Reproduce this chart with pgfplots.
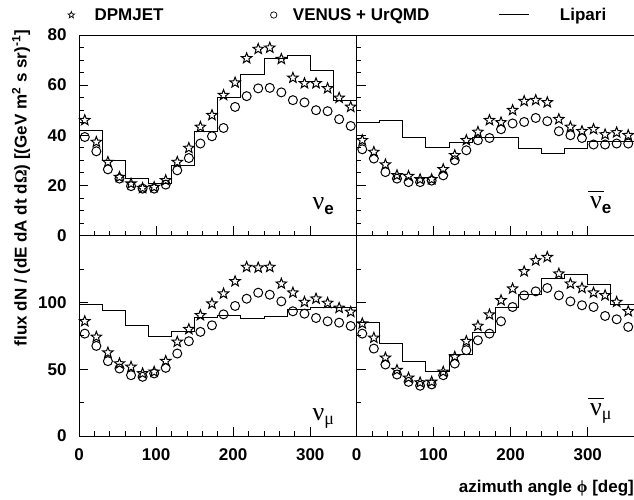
\documentclass[border=0pt]{standalone}
\usepackage{fontspec}
\setmainfont{Liberation Sans}
\newfontfamily\symb{Liberation Serif}
\usepackage{pgfplots}
\usepackage{pgfplotstable}
\pgfplotsset{compat=1.18}

% open five-pointed star, like ROOT marker 30
\pgfdeclareplotmark{ostar}{%
  \pgfpathmoveto{\pgfpointpolar{90}{\pgfplotmarksize}}%
  \pgfpathlineto{\pgfpointpolar{126}{0.42*\pgfplotmarksize}}%
  \pgfpathlineto{\pgfpointpolar{162}{\pgfplotmarksize}}%
  \pgfpathlineto{\pgfpointpolar{198}{0.42*\pgfplotmarksize}}%
  \pgfpathlineto{\pgfpointpolar{234}{\pgfplotmarksize}}%
  \pgfpathlineto{\pgfpointpolar{270}{0.42*\pgfplotmarksize}}%
  \pgfpathlineto{\pgfpointpolar{306}{\pgfplotmarksize}}%
  \pgfpathlineto{\pgfpointpolar{342}{0.42*\pgfplotmarksize}}%
  \pgfpathlineto{\pgfpointpolar{18}{\pgfplotmarksize}}%
  \pgfpathlineto{\pgfpointpolar{54}{0.42*\pgfplotmarksize}}%
  \pgfpathclose
  \pgfusepathqstroke}

\newcommand\lab{\fontsize{17bp}{20bp}\selectfont\bfseries}
\newcommand\Nu{{\symb\fontsize{26bp}{26bp}\selectfont ν}}

% phi, DPMJET, VENUS+UrQMD
\pgfplotstableread{
phi dpm ven
7.5 46.0 39.3
22.5 37.3 33.6
37.5 29.3 26.4
52.5 23.3 22.7
67.5 20.7 19.7
82.5 18.9 18.7
97.5 19.3 18.7
112.5 22.0 20.3
127.5 29.3 26.0
142.5 34.9 30.9
157.5 43.3 36.7
172.5 48.0 39.6
187.5 56.0 42.9
202.5 61.0 51.3
217.5 70.7 55.6
232.5 74.4 58.7
247.5 74.9 58.9
262.5 70.4 57.1
277.5 62.9 54.0
292.5 60.7 53.1
307.5 60.7 50.0
322.5 58.7 49.6
337.5 54.9 46.4
352.5 51.3 43.7
}\nue
\pgfplotstableread{
phi dpm ven
7.5 38.0 34.4
22.5 33.3 30.7
37.5 28.3 25.3
52.5 24.0 22.7
67.5 23.7 21.3
82.5 22.4 21.3
97.5 22.4 21.9
112.5 26.4 24.0
127.5 32.0 30.0
142.5 38.0 34.0
157.5 41.3 38.0
172.5 46.0 38.9
187.5 45.1 42.4
202.5 50.0 44.7
217.5 53.6 45.3
232.5 54.0 46.9
247.5 53.1 45.6
262.5 46.4 41.6
277.5 43.3 40.0
292.5 41.6 38.9
307.5 42.4 36.3
322.5 40.3 36.3
337.5 41.1 36.7
352.5 40.0 36.7
}\anue
\pgfplotstableread{
phi dpm ven
7.5 85.8 76.6
22.5 74.1 67.4
37.5 62.4 56.0
52.5 54.2 50.5
67.5 51.7 45.5
82.5 46.8 44.3
97.5 48.0 46.8
112.5 56.0 51.0
127.5 70.4 61.7
142.5 79.9 70.9
157.5 90.3 77.9
172.5 99.0 82.8
187.5 106.5 91.0
202.5 115.7 97.3
217.5 126.4 102.7
232.5 125.9 107.2
247.5 126.4 105.7
262.5 113.9 100.7
277.5 107.2 93.3
292.5 100.2 91.5
307.5 102.7 88.3
322.5 99.5 85.8
337.5 95.8 84.8
352.5 92.8 82.3
}\numu
\pgfplotstableread{
phi dpm ven
7.5 84.1 76.6
22.5 73.4 65.4
37.5 58.5 53.5
52.5 49.3 46.0
67.5 43.5 40.5
82.5 40.0 37.6
97.5 40.5 38.6
112.5 48.0 45.5
127.5 59.2 54.2
142.5 70.9 64.2
157.5 82.3 71.6
172.5 90.8 76.6
187.5 101.5 85.8
202.5 110.2 96.5
217.5 123.1 105.2
232.5 131.3 108.2
247.5 133.8 110.7
262.5 121.4 105.2
277.5 113.9 100.7
292.5 110.7 97.8
307.5 107.2 96.5
322.5 105.2 89.8
337.5 100.2 87.3
352.5 93.3 81.6
}\anumu
% Lipari, 30 deg bins (left edges, last row closes the histogram)
\pgfplotstableread{
edge nue anue numu anumu
0 41.7 44.9 98.5 84.6
30 30.0 45.7 94.0 69.2
60 22.7 39.3 82.3 55.5
90 20.7 35.3 74.1 48.5
120 28.0 37.1 78.4 61.0
150 41.6 39.3 89.0 77.4
180 54.9 39.0 90.0 96.5
210 64.3 34.9 87.8 105.7
240 70.7 32.7 89.3 117.7
270 72.0 34.7 94.8 120.7
300 65.7 37.6 95.8 113.2
330 54.0 37.6 95.8 98.3
360 54.0 37.6 95.8 98.3
}\lipari

\pgfplotsset{
  panel/.style={
    scale only axis, width=277.5bp, height=200.5bp, anchor=south west,
    xmin=0, xmax=360, xtick={0,100,200,300}, minor x tick num=4,
    xtick pos=bottom, ytick pos=left, tick align=inside,
    major tick length=9bp, minor tick length=4.5bp,
    axis line style={line width=1pt}, tick style={line width=0.8pt, black},
    ticklabel style={font=\lab},
    /pgf/number format/assume math mode=true,
    yticklabel style={xshift=-9bp},
    xticklabel style={yshift=-9bp},
  },
  toprow/.style={ymin=0, ymax=80, ytick={0,20,40,60,80}, minor y tick num=3, xticklabels={}},
  botrow/.style={ymin=0, ymax=150, ytick={0,50,100,150}, minor y tick num=1},
  dpm/.style={black, only marks, mark=ostar, mark size=5.5bp, mark options={line width=1pt},
    legend image code/.code={\draw[mark repeat=2,mark phase=2,##1,mark size=3.5bp,mark options={line width=0.7pt}]
      plot coordinates {(0bp,0bp)(15bp,0bp)(30bp,0bp)}; \path (38bp,0bp);}},
  ven/.style={black, only marks, mark=o, mark size=4.5bp, mark options={line width=1pt},
    legend image code/.code={\draw[mark repeat=2,mark phase=2,##1,mark size=3.2bp,mark options={line width=0.7pt}]
      plot coordinates {(0bp,0bp)(15bp,0bp)(30bp,0bp)}; \path (34bp,0bp);}},
  lip/.style={black, const plot, no marks, line width=1pt,
    legend image code/.code={\draw[##1] (0bp,0bp) -- (30bp,0bp); \path (60bp,0bp);}},
}

\begin{document}
\begin{tikzpicture}
\useasboundingbox (0,0) rectangle (634bp,500bp);

\begin{axis}[panel, toprow, at={(79bp,264.5bp)},
  legend columns=3,
  legend style={draw=none, fill=none, inner sep=0pt, outer sep=0pt,
    nodes={inner sep=0pt, font=\lab},
    at={(axis description cs:-0.0396,1.0998)}, anchor=west},
  legend cell align=left]
\addplot[dpm] table[x=phi, y=dpm] {\nue};
\addlegendentry{\makebox[176bp][l]{DPMJET}}
\addplot[ven] table[x=phi, y=ven] {\nue};
\addlegendentry{\makebox[206bp][l]{VENUS + UrQMD}}
\addplot[lip] table[x=edge, y=nue] {\lipari};
\addlegendentry{Lipari}
\node[anchor=base east, inner sep=0pt] at (axis cs:331,10.4) {\Nu\raisebox{-5bp}{\lab e}};
\end{axis}

\begin{axis}[panel, toprow, at={(356.5bp,264.5bp)}, yticklabels={}]
\addplot[dpm] table[x=phi, y=dpm] {\anue};
\addplot[ven] table[x=phi, y=ven] {\anue};
\addplot[lip] table[x=edge, y=anue] {\lipari};
\node[anchor=base east, inner sep=0pt] at (axis cs:331,10.8)
  {\makebox[0pt][l]{\hspace{-2bp}\raisebox{16bp}{\rule{16bp}{1bp}}}\Nu\raisebox{-5bp}{\lab e}};
\end{axis}

\begin{axis}[panel, botrow, at={(79bp,64bp)}, yticklabels={0,50,100,{}},
  ]
\addplot[dpm] table[x=phi, y=dpm] {\numu};
\addplot[ven] table[x=phi, y=ven] {\numu};
\addplot[lip] table[x=edge, y=numu] {\lipari};
\node[anchor=base east, inner sep=0pt] at (axis cs:331,11.9) {\Nu\raisebox{-4bp}{\symb\fontsize{18bp}{18bp}\selectfont μ}};
\end{axis}

\begin{axis}[panel, botrow, at={(356.5bp,64bp)}, yticklabels={},
  xlabel={azimuth angle {\symb ϕ} [deg]},
  xlabel style={font=\lab, inner sep=0pt, at={(axis description cs:1,0)}, anchor=east, yshift=-52bp}]
\addplot[dpm] table[x=phi, y=dpm] {\anumu};
\addplot[ven] table[x=phi, y=ven] {\anumu};
\addplot[lip] table[x=edge, y=anumu] {\lipari};
\node[anchor=base east, inner sep=0pt] at (axis cs:331,15.7)
  {\makebox[0pt][l]{\hspace{-2bp}\raisebox{16bp}{\rule{16bp}{1bp}}}\Nu\raisebox{-4bp}{\symb\fontsize{18bp}{18bp}\selectfont μ}};
\end{axis}

\node[rotate=90, font=\lab, inner sep=0pt, anchor=east] at (21bp,470bp)
  {flux dN / (dE dA dt d{\symb Ω}) [(GeV m\textsuperscript{2} s sr)\textsuperscript{-1}]};
\end{tikzpicture}
\end{document}
